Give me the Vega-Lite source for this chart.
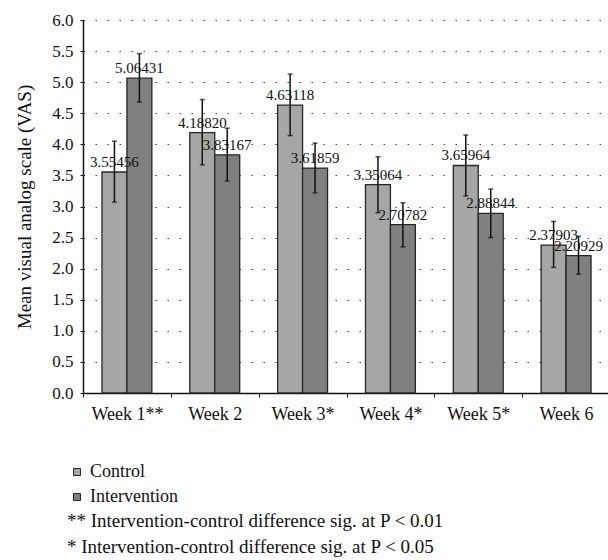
{
  "$schema": "https://vega.github.io/schema/vega-lite/v6.json",
  "autosize": "none",
  "width": 527,
  "height": 373,
  "padding": {"left": 83, "top": 20, "right": 0, "bottom": 167},
  "background": "white",
  "config": {
    "font": "Liberation Serif",
    "view": {"stroke": null},
    "axis": {"labelFont": "Liberation Serif", "titleFont": "Liberation Serif", "labelColor": "#111", "titleColor": "#111", "domainColor": "#111", "tickColor": "#111", "domainWidth": 1.5},
    "axisY": {
      "tickCount": 12, "format": ".1f", "labelFontSize": 17, "labelPadding": 7, "tickSize": 3,
      "grid": true, "gridDash": [1.5, 10.5], "gridColor": "#444", "gridWidth": 1.2,
      "titleFontSize": 19, "titleFontWeight": "normal", "titlePadding": 17
    },
    "axisX": {"labelFontSize": 18, "labelPadding": 8, "tickSize": 4, "grid": false, "labelAngle": 0, "tickBand": "extent"},
    "legend": {"labelFont": "Liberation Serif", "titleFont": "Liberation Serif"}
  },
  "title": {
    "text": ["** Intervention-control difference sig. at P < 0.01", "\u2002* Intervention-control difference sig. at P < 0.05"],
    "orient": "bottom",
    "anchor": "start",
    "frame": "group",
    "dx": -16,
    "offset": 6,
    "font": "Liberation Serif",
    "fontSize": 19,
    "fontWeight": "normal",
    "color": "#111",
    "lineHeight": 26
  },
  "data": {
    "values": [
      {"week": "Week 1**", "group": "Control", "value": 3.55456, "lo": 3.07, "hi": 4.05},
      {"week": "Week 1**", "group": "Intervention", "value": 5.06431, "lo": 4.68, "hi": 5.46},
      {"week": "Week 2", "group": "Control", "value": 4.18820, "lo": 3.67, "hi": 4.72},
      {"week": "Week 2", "group": "Intervention", "value": 3.83167, "lo": 3.41, "hi": 4.26},
      {"week": "Week 3*", "group": "Control", "value": 4.63118, "lo": 4.14, "hi": 5.13},
      {"week": "Week 3*", "group": "Intervention", "value": 3.61859, "lo": 3.22, "hi": 4.02},
      {"week": "Week 4*", "group": "Control", "value": 3.35064, "lo": 2.90, "hi": 3.80},
      {"week": "Week 4*", "group": "Intervention", "value": 2.70782, "lo": 2.35, "hi": 3.06},
      {"week": "Week 5*", "group": "Control", "value": 3.65964, "lo": 3.17, "hi": 4.15},
      {"week": "Week 5*", "group": "Intervention", "value": 2.88844, "lo": 2.50, "hi": 3.28},
      {"week": "Week 6", "group": "Control", "value": 2.37903, "lo": 2.02, "hi": 2.76},
      {"week": "Week 6", "group": "Intervention", "value": 2.20929, "lo": 1.91, "hi": 2.52}
    ]
  },
  "encoding": {
    "x": {
      "field": "week", "type": "nominal", "sort": null,
      "scale": {"paddingInner": 0, "paddingOuter": 0},
      "axis": {"title": null}
    },
    "xOffset": {
      "field": "group", "type": "nominal",
      "scale": {"domain": ["Control", "Intervention"], "paddingInner": 0, "paddingOuter": 0.76}
    }
  },
  "layer": [
    {
      "mark": {"type": "bar", "stroke": "#262626", "strokeWidth": 1.3},
      "encoding": {
        "y": {
          "field": "value", "type": "quantitative",
          "scale": {"domain": [0, 6], "nice": false},
          "axis": {"title": "Mean visual analog scale (VAS)"}
        },
        "color": {
          "field": "group", "type": "nominal",
          "scale": {"domain": ["Control", "Intervention"], "range": ["#a6a6a6", "#808080"]},
          "legend": {
            "title": null, "orient": "none", "legendX": -15, "legendY": 443, "direction": "vertical",
            "symbolType": "square", "symbolSize": 49, "symbolStrokeWidth": 1,
            "labelFontSize": 18, "labelFont": "Liberation Serif", "labelColor": "#111", "labelOffset": 4, "rowPadding": 7
          }
        }
      }
    },
    {
      "mark": {"type": "text", "baseline": "bottom", "dy": -2, "fontSize": 15, "color": "#111", "font": "Liberation Serif"},
      "encoding": {
        "y": {"field": "value", "type": "quantitative"},
        "text": {"field": "value", "type": "quantitative", "format": ".5f"}
      }
    },
    {
      "mark": {"type": "rule", "color": "#111", "strokeWidth": 1.5},
      "encoding": {
        "y": {"field": "lo", "type": "quantitative"},
        "y2": {"field": "hi"}
      }
    },
    {
      "mark": {"type": "tick", "color": "#111", "size": 5, "thickness": 1.5},
      "encoding": {"y": {"field": "lo", "type": "quantitative"}}
    },
    {
      "mark": {"type": "tick", "color": "#111", "size": 5, "thickness": 1.5},
      "encoding": {"y": {"field": "hi", "type": "quantitative"}}
    }
  ]
}
